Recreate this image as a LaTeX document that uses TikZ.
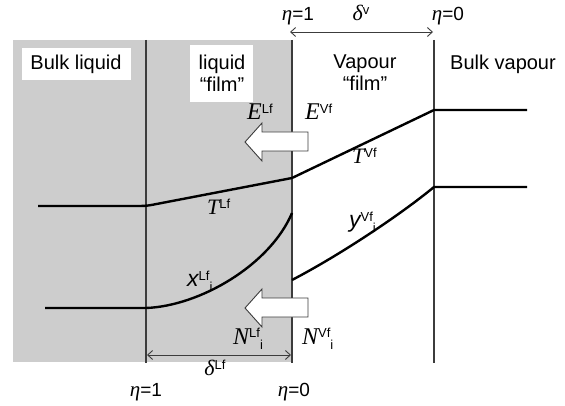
\documentclass[tikz,border=0pt]{standalone}
\usepackage{fontspec}
\setmainfont{Liberation Sans}
\newfontfamily\tms{Liberation Serif}
\usetikzlibrary{arrows.meta}
\definecolor{filmgray}{RGB}{205,205,205}
\definecolor{linegray}{RGB}{60,60,60}
\newcommand{\bsym}[1]{{\fontsize{24}{24}\selectfont\tms\itshape #1}}
\newcommand{\tsym}[1]{{\fontsize{22}{22}\selectfont\tms\itshape #1}}
\newcommand{\vsym}[1]{{\fontsize{23}{23}\selectfont\itshape #1}}
\newcommand{\supx}[1]{\raisebox{6.5pt}{\fontsize{13}{13}\selectfont #1}}
\newcommand{\supsubx}[2]{\raisebox{6.5pt}{\fontsize{13}{13}\selectfont #1}\raisebox{-5pt}{\fontsize{13}{13}\selectfont #2}}
\newcommand{\etaeq}[1]{{\tms\itshape\fontsize{21}{21}\selectfont η}{\fontsize{19}{19}\selectfont =#1}}
\begin{document}
\begin{tikzpicture}[x=1pt,y=-1pt,
  vline/.style={draw=linegray,line width=1.1pt},
  curve/.style={draw=black,line width=2.4pt},
  flux/.style={draw=linegray,fill=white,line width=0.9pt,line join=miter},
  dim/.style={draw=linegray,line width=0.9pt,{Straight Barb[length=5pt,width=9pt]}-{Straight Barb[length=5pt,width=9pt]}},
  lab/.style={inner sep=0pt,font=\fontsize{20}{22}\selectfont},
  sym/.style={inner sep=0pt,anchor=base west},
  whitebox/.style={fill=white,inner sep=0pt}]
\useasboundingbox (0,0) rectangle (565,406);
% film region
\fill[filmgray] (13,40) rectangle (292,362);
% boundaries
\coordinate (l1t) at (146,40); \coordinate (l1b) at (146,363);
\coordinate (l2t) at (292,40); \coordinate (l2b) at (292,363);
\coordinate (l3t) at (434,40); \coordinate (l3b) at (434,363);
\draw[vline] (l1t) -- (l1b);
\draw[vline] (l2t) -- (l2b);
\draw[vline] (l3t) -- (l3b);
% label boxes
\fill[whitebox] (22,48) rectangle (131,80);
\fill[whitebox] (190,45) rectangle (253,102);
\node[lab] (bl) at (76,64) {Bulk liquid};
\node[lab,align=center] (lf) at (222,73) {liquid\\“film”};
\node[lab,align=center] (vf) at (365,73) {Vapour\\“film”};
\node[lab] (bv) at (503,64) {Bulk vapour};
% flux arrows
\draw[flux] (308,132) -- (262,132) -- (262,123) -- (245,142) -- (262,161) -- (262,151) -- (308,151) -- cycle;
\draw[flux] (308,298) -- (262,298) -- (262,289) -- (245,308) -- (262,327) -- (262,317) -- (308,317) -- cycle;
% temperature profile
\draw[curve,line join=round] (38,206) -- (140,206) .. controls (146,206) and (150,205.3) .. (155,204.3) -- (292,178) -- (434,110) -- (527,110);
% composition profiles
\draw[curve] (45,308) -- (146,308) .. controls (200,306) and (270,265) .. (292,213);
\draw[curve] (292,280) .. controls (340,255) and (400,215) .. (434,187) -- (527,187);
% symbols
\node[sym] (elf) at (247,120) {\bsym{E}\supx{Lf}};
\node[sym] (evf) at (305,120) {\bsym{E}\supx{Vf}};
\node[sym] (tlf) at (207,215) {\tsym{T}\supx{Lf}};
\node[sym] (tvf) at (352,164) {\tsym{T}\supx{Vf}};
\node[sym] (xlf) at (187,287) {\vsym{x}\supsubx{Lf}{i}};
\node[sym] (yvf) at (349,228) {\vsym{y}\supsubx{Vf}{i}};
\node[sym] (nlf) at (233,344) {\bsym{N}\supsubx{Lf}{i}};
\node[sym] (nvf) at (302,344) {\bsym{N}\supsubx{Vf}{i}};
% dimensions
\draw[dim] (290,32) -- (433,32);
\draw[dim] (147,355) -- (291,355);
\node[inner sep=0pt] (dv) at (361,13) {\tsym{δ}\supx{v}};
\node[inner sep=0pt] (dl) at (215,368) {\tsym{δ}\supx{Lf}};
\node[inner sep=0pt] (e1t) at (298,16) {\etaeq{1}};
\node[inner sep=0pt] (e0t) at (448,16) {\etaeq{0}};
\node[inner sep=0pt] (e1b) at (146,392) {\etaeq{1}};
\node[inner sep=0pt] (e0b) at (294,392) {\etaeq{0}};
\end{tikzpicture}
\end{document}
